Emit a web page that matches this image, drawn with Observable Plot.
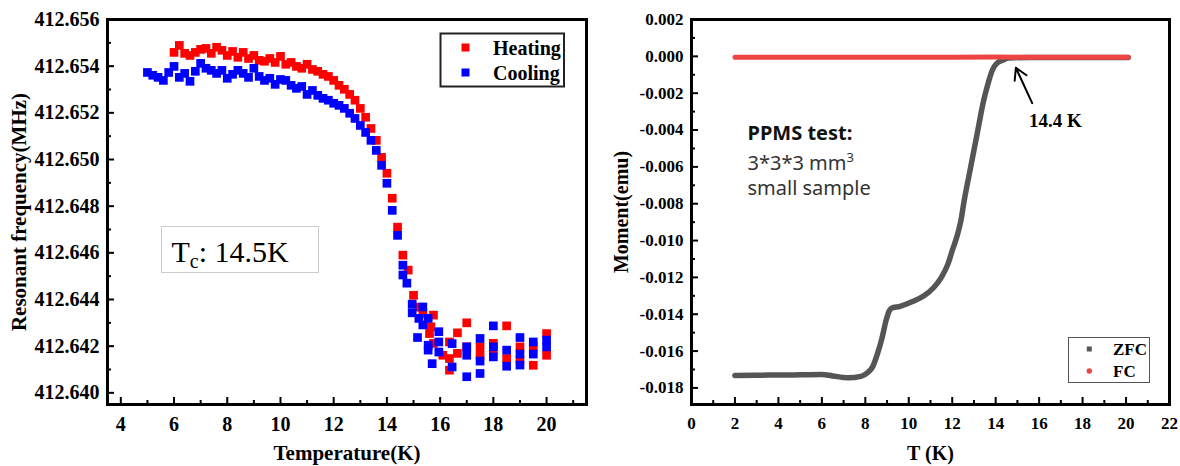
<!DOCTYPE html>
<html><head><meta charset="utf-8">
<script src="https://cdn.jsdelivr.net/npm/d3@7"></script>
<script src="https://cdn.jsdelivr.net/npm/@observablehq/plot@0.6"></script>
<style>
body{margin:0;background:#fff;}
#wrap{position:relative;width:1180px;height:466px;display:flex;overflow:hidden;}
#overlay{position:absolute;left:0;top:0;pointer-events:none;}
</style></head><body><div id="wrap"></div>
<script>
// ---------- Left panel: resonant frequency vs temperature ----------
const heatT = [6.0,6.2,6.4,6.6,6.8,7.0,7.2,7.4,7.6,7.8,8.0,8.2,8.4,8.6,8.8,9.0,9.2,9.4,9.6,9.8,
  10.0,10.2,10.4,10.6,10.8,11.0,11.2,11.4,11.6,11.8,12.0,12.2,12.4,12.6,12.8,13.0,13.2,13.4,13.6,13.8,
  14.0,14.2,14.4,14.6,14.8,15.0,15.2,15.35,15.6,15.65,15.75,15.75,16.1,16.35,16.35,16.35,16.65,16.65,
  17.0,17.0,17.5,17.5,18.0,18.0,18.5,18.5,19.0,19.0,19.5,19.5,20.0,20.0];
const heatF = [412.65459,412.65489,412.65455,412.65446,412.65459,412.65472,412.65476,412.65455,412.65481,412.65468,
  412.65446,412.65463,412.65438,412.65459,412.65433,412.65446,412.65425,412.65421,412.65433,412.65416,
  412.65442,412.65408,412.65416,412.65399,412.65391,412.65408,412.65386,412.65378,412.65365,412.65356,
  412.65339,412.65318,412.65301,412.65279,412.65254,412.65219,412.65181,412.65133,412.65082,412.65009,
  412.64941,412.64834,412.64710,412.64590,412.64526,412.64418,412.64367,412.64340,412.64254,412.64283,412.64333,412.64212,
  412.64161,412.64218,412.64147,412.64097,412.64257,412.64169,
  412.64300,412.64197,412.64197,412.64161,412.64212,412.64183,412.64287,412.64147,412.64197,412.64140,
  412.64197,412.64118,412.64254,412.64161];
const coolT = [5.0,5.2,5.4,5.6,5.8,6.0,6.2,6.4,6.6,6.8,7.0,7.2,7.4,7.6,7.8,8.0,8.2,8.4,8.6,8.8,
  9.0,9.2,9.4,9.6,9.8,10.0,10.2,10.4,10.6,10.8,11.0,11.2,11.4,11.6,11.8,12.0,12.2,12.4,12.6,12.8,
  13.0,13.2,13.4,13.6,13.8,14.0,14.2,14.4,14.6,14.6,14.75,14.95,14.95,15.15,15.2,15.35,15.35,
  15.55,15.55,15.55,15.7,15.95,15.95,15.95,16.45,16.45,17.0,17.0,17.0,17.5,17.5,17.5,
  18.0,18.0,18.0,18.5,18.5,19.0,19.0,19.0,19.5,19.5,20.0,20.0];
const coolF = [412.65373,412.65361,412.65352,412.65339,412.65373,412.65399,412.65352,412.65369,412.65335,412.65378,
  412.65412,412.65391,412.65382,412.65369,412.65382,412.65348,412.65365,412.65382,412.65369,412.65352,
  412.65391,412.65356,412.65339,412.65348,412.65322,412.65343,412.65339,412.65318,412.65305,412.65313,
  412.65279,412.65296,412.65275,412.65262,412.65254,412.65241,412.65232,412.65219,412.65198,412.65176,
  412.65146,412.65116,412.65082,412.65039,412.64975,412.64898,412.64782,412.64675,412.64547,412.64505,
  412.64470,412.64380,412.64343,412.64237,412.64319,412.64368,412.64291,
  412.64319,412.64204,412.64183,412.64125,412.64262,412.64218,412.64175,412.64211,412.64111,
  412.64197,412.64161,412.64069,412.64233,412.64136,412.64083,
  412.64287,412.64197,412.64154,412.64183,412.64114,412.64237,412.64166,412.64119,412.64218,412.64166,
  412.64226,412.64197];
const leftXMajor = [4,6,8,10,12,14,16,18,20];
const leftXMinor = [5,7,9,11,13,15,17,19,21];
const leftYMajor = [412.640,412.642,412.644,412.646,412.648,412.650,412.652,412.654,412.656];
const leftYMinor = [412.641,412.643,412.645,412.647,412.649,412.651,412.653,412.655];

// ---------- Right panel: moment vs T ----------
const zfcT = [2.0,3.0,4.0,5.0,6.0,6.5,7.2,7.8,8.1,8.35,8.55,8.77,8.95,9.1,9.2,9.6,10.2,10.7,11.15,11.5,
  11.8,12.0,12.25,12.4,12.55,12.85,13.15,13.45,13.65,13.85,14.05,14.35,14.6,15.5,17.0,18.5,20.1];
const zfcM = [-0.01732,-0.01731,-0.01730,-0.01729,-0.01727,-0.01735,-0.01745,-0.01737,-0.01718,-0.01682,
  -0.01618,-0.01528,-0.01436,-0.01382,-0.01367,-0.01357,-0.01330,-0.01300,-0.01255,-0.01200,
  -0.01128,-0.01055,-0.00964,-0.00891,-0.00784,-0.00601,-0.00419,-0.00238,-0.00147,-0.00074,
  -0.00038,-0.00020,-0.00009,-0.00006,-0.00006,-0.00006,-0.00006];
const fcT = [2.0,4.0,6.0,8.0,10.0,12.0,14.0,16.0,18.0,20.1];
const fcM = [-0.00005,-0.00005,-0.00005,-0.00005,-0.00005,-0.00005,-0.00004,-0.00005,-0.00005,-0.00005];
const rightXMajor = [0,2,4,6,8,10,12,14,16,18,20,22];
const rightXMinor = [1,3,5,7,9,11,13,15,17,19,21];
const rightYMajor = [-0.018,-0.016,-0.014,-0.012,-0.010,-0.008,-0.006,-0.004,-0.002,0.000,0.002];
const rightYMinor = [-0.017,-0.015,-0.013,-0.011,-0.009,-0.007,-0.005,-0.003,-0.001,0.001];
const arrowFrom = [15.68, -0.00254];
const arrowTo = [14.93, -0.00062];

const serif = '"Liberation Serif","Times New Roman",serif';
const heating = heatT.map((T, i) => ({T, f: heatF[i]}));
const cooling = coolT.map((T, i) => ({T, f: coolF[i]}));
const zfc = zfcT.map((T, i) => ({T, m: zfcM[i]}));
const fc = fcT.map((T, i) => ({T, m: fcM[i]}));

function tickAxes(kind, major, minor, fmt, fontSize, label, labelOffset, labelSize) {
  const A = kind === "x" ? Plot.axisX : Plot.axisY;
  const shift = kind === "x" ? (s) => ({dy: -s}) : (s) => ({dx: s});
  return [
    A({ticks: minor, tickSize: 4, ...shift(4), fill: "none", label: null, strokeWidth: 2}),
    A({ticks: major, tickSize: 7, ...shift(7), fill: "none", label: null, strokeWidth: 2}),
    A({ticks: major, tickSize: 0, tickPadding: kind === "x" ? 12 : 8, tickFormat: fmt,
       fontSize, fontWeight: "bold", label: null}),
    A({ticks: [], tickSize: 0, label, labelAnchor: "center", labelArrow: "none", labelOffset,
       fontSize: labelSize, fontWeight: "bold"})
  ];
}

const left = Plot.plot({
  width: 600, height: 466,
  marginLeft: 107, marginRight: 14, marginTop: 19, marginBottom: 62,
  style: {fontFamily: serif, color: "black", background: "white", overflow: "visible"},
  x: {domain: [3.5, 21.5]},
  y: {domain: [412.6395, 412.656]},
  marks: [
    Plot.dot(heating, {x: "T", y: "f", symbol: "square", r: 4.9, fill: "#ff0000"}),
    Plot.dot(cooling, {x: "T", y: "f", symbol: "square", r: 4.9, fill: "#0000ff"}),
    ...tickAxes("x", leftXMajor, leftXMinor, d => String(d), 20, "Temperature(K)", 55, 21),
    ...tickAxes("y", leftYMajor, leftYMinor, d => d.toFixed(3), 20, "Resonant frequency(MHz)", 96, 21),
    Plot.frame({stroke: "black", strokeWidth: 3})
  ]
});

const right = Plot.plot({
  width: 580, height: 466,
  marginLeft: 91, marginRight: 11, marginTop: 19, marginBottom: 62,
  style: {fontFamily: serif, color: "black", background: "white", overflow: "visible"},
  x: {domain: [0, 22]},
  y: {domain: [-0.0189, 0.002]},
  marks: [
    Plot.line(zfc, {x: "T", y: "m", stroke: "#555555", strokeWidth: 5.5, curve: "monotone-x", strokeLinecap: "round"}),
    Plot.line(fc, {x: "T", y: "m", stroke: "#ee4444", strokeWidth: 5, strokeLinecap: "round"}),
    Plot.arrow([{x1: arrowFrom[0], y1: arrowFrom[1], x2: arrowTo[0], y2: arrowTo[1]}],
      {x1: "x1", y1: "y1", x2: "x2", y2: "y2", stroke: "black", strokeWidth: 2, headLength: 11, bend: 0}),
    ...tickAxes("x", rightXMajor, rightXMinor, d => String(d), 17, "T (K)", 55, 20),
    ...tickAxes("y", rightYMajor, rightYMinor, d => d.toFixed(3), 17, "Moment(emu)", 78, 20),
    Plot.frame({stroke: "black", strokeWidth: 3})
  ]
});

const wrap = document.getElementById("wrap");
wrap.appendChild(left);
wrap.appendChild(right);

const ov = document.createElementNS("http://www.w3.org/2000/svg", "svg");
ov.setAttribute("id", "overlay");
ov.setAttribute("width", 1180);
ov.setAttribute("height", 466);
ov.innerHTML = `
<g font-family='${serif}' font-weight="bold">
  <rect x="440.5" y="33.5" width="123.5" height="53" fill="white" stroke="#222" stroke-width="2"/>
  <rect x="461.5" y="43.5" width="8" height="8" fill="#ff0000"/>
  <text x="493" y="54.5" font-size="20">Heating</text>
  <rect x="461.5" y="68.5" width="8" height="8" fill="#0000ff"/>
  <text x="493" y="80" font-size="20">Cooling</text>
  <rect x="1068.5" y="337.5" width="81" height="45" fill="white" stroke="#555" stroke-width="1"/>
  <rect x="1086.8" y="346.5" width="5" height="5" fill="#555555"/>
  <circle cx="1089.3" cy="371" r="2.7" fill="#ee4444"/>
  <text x="1113" y="355" font-size="17">ZFC</text>
  <text x="1113" y="377" font-size="17">FC</text>
  <text x="1029" y="127" font-size="19">14.4 K</text>
</g>
<rect x="161.5" y="226.5" width="157" height="46" fill="white" stroke="#cccccc" stroke-width="1"/>
<text x="171.5" y="261.7" font-family='${serif}' font-size="30">T<tspan font-size="20" dy="6.5">c</tspan><tspan dy="-6.5">: 14.5K</tspan></text>
<g font-family='"Noto Sans",sans-serif'>
  <text x="747.5" y="140" font-size="20" font-weight="bold" fill="#111">PPMS test:</text>
  <text x="747.5" y="170" font-size="20" fill="#333">3*3*3 mm<tspan font-size="13" dy="-8">3</tspan></text>
  <text x="747.5" y="195" font-size="20" fill="#333">small sample</text>
</g>`;
wrap.appendChild(ov);
</script></body></html>
